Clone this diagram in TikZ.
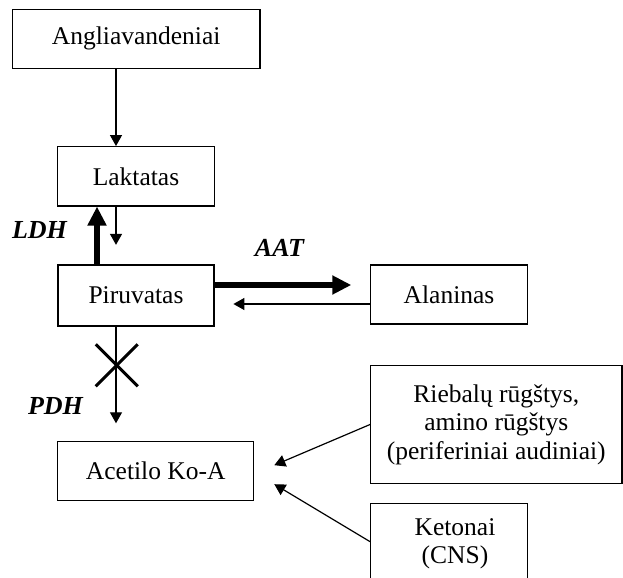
\documentclass[tikz,border=0pt]{standalone}
\usepackage{fontspec}
\setmainfont{Liberation Serif}
\usetikzlibrary{arrows.meta}
\begin{document}
\begin{tikzpicture}[x=1bp, y=-1bp,
	box/.style={rectangle, draw, line width=1.2bp, inner sep=0pt, align=center, font=\fontsize{25.5bp}{28.5bp}\selectfont},
	txt/.style={inner sep=0pt, align=center, font=\fontsize{25.5bp}{28.5bp}\selectfont},
	enz/.style={inner sep=0pt, font=\fontsize{26bp}{28bp}\selectfont\bfseries\itshape},
	arr/.style={line width=1.2bp, -{Triangle[length=11bp, width=12bp]}},
	thickarr/.style={line width=6bp, -{Triangle[length=19bp, width=18bp]}},
	cross/.style={line width=3bp}]
	\useasboundingbox (0,0) rectangle (623,578);
	\clip (0,0) rectangle (623,578);
	\node[box, minimum width=247.5bp, minimum height=59bp] (angl) at (136.2,38.7) {Angliavandeniai};
	\node[box, minimum width=156.3bp, minimum height=59.3bp] (lakt) at (136,176.3) {Laktatas};
	\node[box, minimum width=156bp, minimum height=61bp] (piru) at (136,295.5) {Piruvatas};
	\node[box, minimum width=156.6bp, minimum height=59bp] (alan) at (449,294.5) {Alaninas};
	\node[box, minimum width=196bp, minimum height=59bp] (acet) at (155.7,471.2) {Acetilo Ko-A};
	\node[box, minimum width=251.3bp, minimum height=117.6bp] (rieb) at (496.3,424.5) {Riebalų rūgštys,\\amino rūgštys\\(periferiniai audiniai)};
	\node[box, minimum width=157bp, minimum height=100bp] (ketbox) at (449.2,553.3) {};
	\node[txt] (ket) at (455,544) {Ketonai\\(CNS)};
	\node[enz] (ldh) at (39.5,230) {LDH};
	\node[enz] (aat) at (279.5,248) {AAT};
	\node[enz] (pdh) at (55.5,405.7) {PDH};
	\coordinate (pdhx) at (116.8,365.3);
	% arrows
	\draw[arr] ([xshift=-20bp]lakt.north |- angl.south) -- ([xshift=-20bp]lakt.north);
	\draw[arr] ([xshift=-20bp]lakt.south) -- ++(0,38.3);
	\draw[thickarr] ([xshift=-39bp]piru.north) -- ([xshift=-39bp]lakt.south);
	\draw[thickarr] ([yshift=10.5bp]piru.east) -- ++(136.7,0);
	\draw[arr] ([yshift=-9.5bp]alan.west) -- ++(-136.7,0);
	\draw[arr] ([xshift=-20bp]piru.south) -- ++(0,96.7);
	\draw[cross] (pdhx) +(-21,-21) -- +(21,21) (pdhx) +(-21,21) -- +(21,-21);
	\draw[arr] (rieb.west) -- ([xshift=20bp, yshift=6bp]acet.east);
	\draw[arr] ([yshift=11.6bp]ketbox.west) -- ([xshift=20bp, yshift=-13bp]acet.east);
\end{tikzpicture}
\end{document}
